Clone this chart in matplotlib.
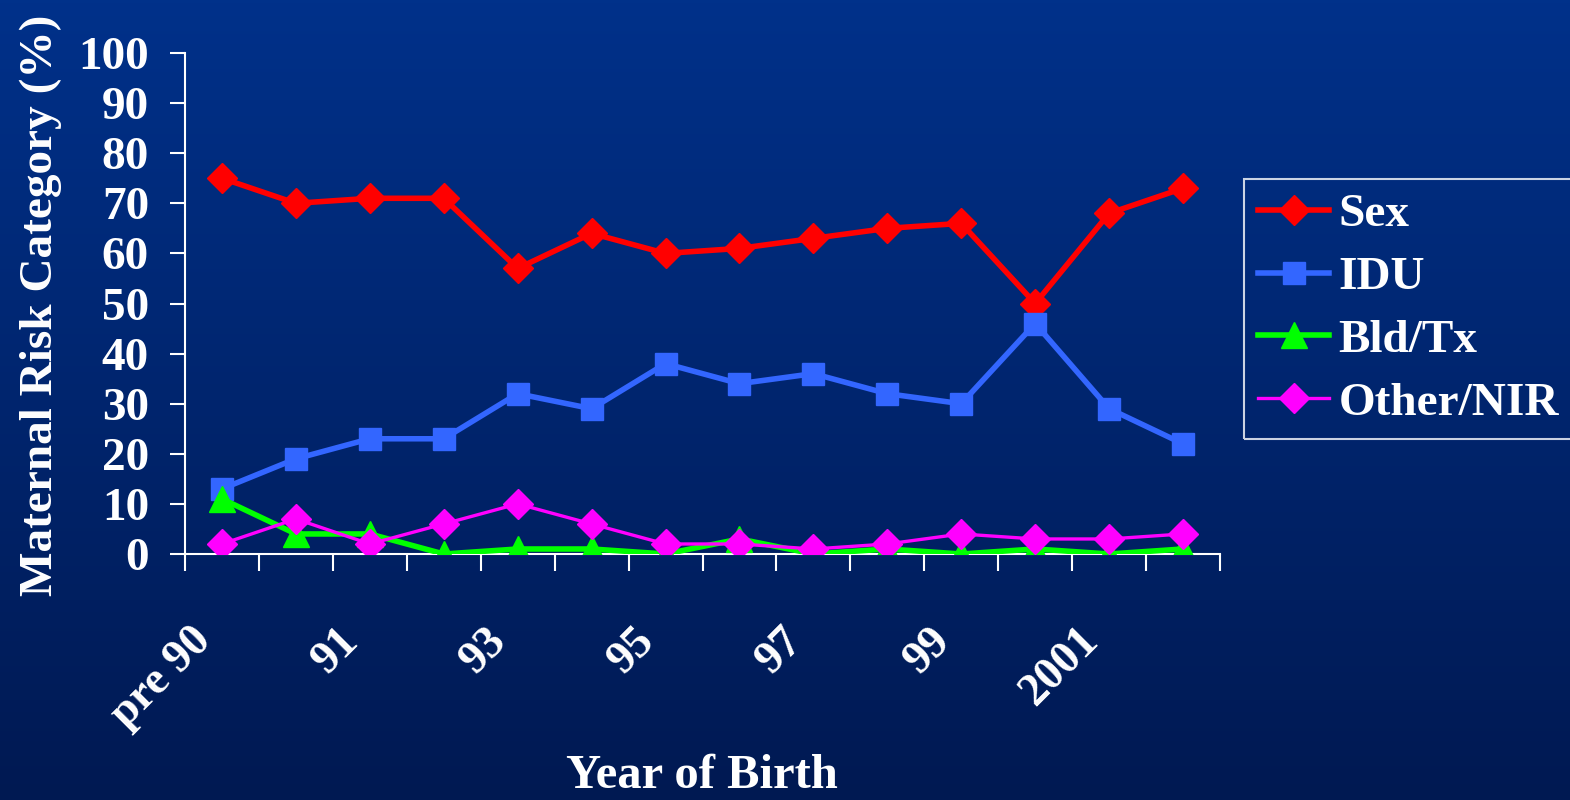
import matplotlib

matplotlib.use("Agg")
import matplotlib.pyplot as plt
import numpy as np

# Year-of-birth categories (every other one is labelled on the axis)
categories = ["pre 90", "90", "91", "92", "93", "94", "95", "96",
              "97", "98", "99", "2000", "2001", "2002"]
shown_labels = ["pre 90", "91", "93", "95", "97", "99", "2001"]

sex = [75, 70, 71, 71, 57, 64, 60, 61, 63, 65, 66, 50, 68, 73]
idu = [13, 19, 23, 23, 32, 29, 38, 34, 36, 32, 30, 46, 29, 22]
bld_tx = [11, 4, 4, 0, 1, 1, 0, 3, 0, 1, 0, 1, 0, 1]
other_nir = [2, 7, 2, 6, 10, 6, 2, 2, 1, 2, 4, 3, 3, 4]

plt.rcParams["font.family"] = ["Liberation Serif", "DejaVu Serif"]
plt.rcParams["font.weight"] = "bold"

W, H = 1570, 800
fig = plt.figure(figsize=(W / 100, H / 100), dpi=100)

# vertical blue gradient background
bg = fig.add_axes([0, 0, 1, 1], zorder=-10)
top = np.array([0, 49, 138]) / 255
bottom = np.array([0, 25, 82]) / 255
t = np.linspace(0, 1, 256)[:, None]
grad = top * (1 - t) + bottom * t
bg.imshow(grad[:, None, :], aspect="auto", extent=(0, 1, 0, 1))
bg.set_axis_off()

ax = fig.add_axes([185 / W, (H - 554) / H, (1220 - 185) / W, (554 - 53) / H])
ax.patch.set_alpha(0)

x = np.arange(len(categories))
ax.plot(x, sex, color="#FF0000", lw=4, marker="D", ms=15, label="Sex", zorder=3)
ax.plot(x, idu, color="#3366FF", lw=4, marker="s", ms=16, label="IDU", zorder=4)
ax.plot(x, bld_tx, color="#00FF00", lw=4, marker="^", ms=19, label="Bld/Tx", zorder=5)
ax.plot(x, other_nir, color="#FF00FF", lw=2.4, marker="D", ms=15, label="Other/NIR", zorder=6)

ax.set_xlim(-0.5, len(categories) - 0.5)
ax.set_ylim(0, 100)
ax.set_yticks(range(0, 101, 10))

# boundary ticks without labels; labels sit under every other category
ax.set_xticks(np.arange(len(categories) + 1) - 0.5)
ax.set_xticklabels([])
for lbl in shown_labels:
    ax.annotate(lbl, xy=(categories.index(lbl), 0),
                xycoords=("data", "axes fraction"),
                xytext=(-32, -66), textcoords="offset pixels",
                rotation=45, rotation_mode="anchor", ha="right", va="top",
                fontsize=33, fontweight="bold", color="white")
ax.tick_params(axis="x", which="major", length=12, width=1.5, color="white",
               direction="out")
ax.tick_params(axis="y", length=11, width=1.5, color="white", direction="out",
               labelsize=34, labelcolor="white", pad=15)
for lbl in ax.get_yticklabels():
    lbl.set_fontweight("bold")

for side in ("top", "right"):
    ax.spines[side].set_visible(False)
for side in ("left", "bottom"):
    ax.spines[side].set_color("white")
    ax.spines[side].set_linewidth(1.5)

ax.set_ylabel("Maternal Risk Category (%)", fontsize=34, fontweight="bold",
              color="white")
ax.yaxis.set_label_coords((62 - 185) / 1035, (554 - 305) / 501)
fig.text(702 / W, 12 / H, "Year of Birth", ha="center", va="baseline",
         fontsize=35, fontweight="bold", color="white")

leg = ax.legend(loc="upper left", bbox_to_anchor=(1244 / W, (H - 179) / H),
                bbox_transform=fig.transFigure, frameon=True,
                prop={"weight": "bold", "size": 34}, handlelength=1.5,
                borderaxespad=0, labelspacing=0.42, handletextpad=0.2,
                borderpad=0.3, fancybox=False)
leg.get_frame().set_facecolor("none")
leg.get_frame().set_edgecolor("white")
leg.get_frame().set_linewidth(1.5)
for txt in leg.get_texts():
    txt.set_color("white")

fig.savefig("out.png", dpi=100)
